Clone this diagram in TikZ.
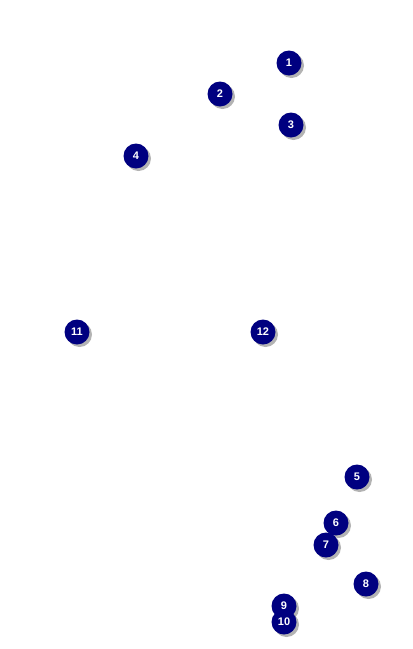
\documentclass[tikz,border=0pt]{standalone}
\usepackage{fontspec}
\setmainfont{Liberation Sans}
\usetikzlibrary{shadows}
\definecolor{bodnavy}{RGB}{0,0,128}
\begin{document}
\begin{tikzpicture}[
  x=1pt, y=-1pt,
  bod/.style={circle, fill=bodnavy, text=white, minimum size=25pt, inner sep=0pt,
    font=\bfseries\fontsize{11}{11}\selectfont,
    drop shadow={shadow xshift=2.5pt, shadow yshift=-2.5pt, fill=black!50, opacity=0.6}}
]
  \useasboundingbox (0,0) rectangle (413,649);
  % Očíslované body
  \node[bod] (1) at (289, 63) {1};
  \node[bod] (2) at (220, 94) {2};
  \node[bod] (3) at (291, 125) {3};
  \node[bod] (4) at (136, 156) {4};
  \node[bod] (11) at (77, 332) {11};
  \node[bod] (12) at (263, 332) {12};
  \node[bod] (5) at (357, 477) {5};
  \node[bod] (6) at (336, 523) {6};
  \node[bod] (7) at (326, 545) {7};
  \node[bod] (8) at (366, 584) {8};
  \node[bod] (9) at (284, 606) {9};
  \node[bod] (10) at (284, 622) {10};
\end{tikzpicture}
\end{document}
